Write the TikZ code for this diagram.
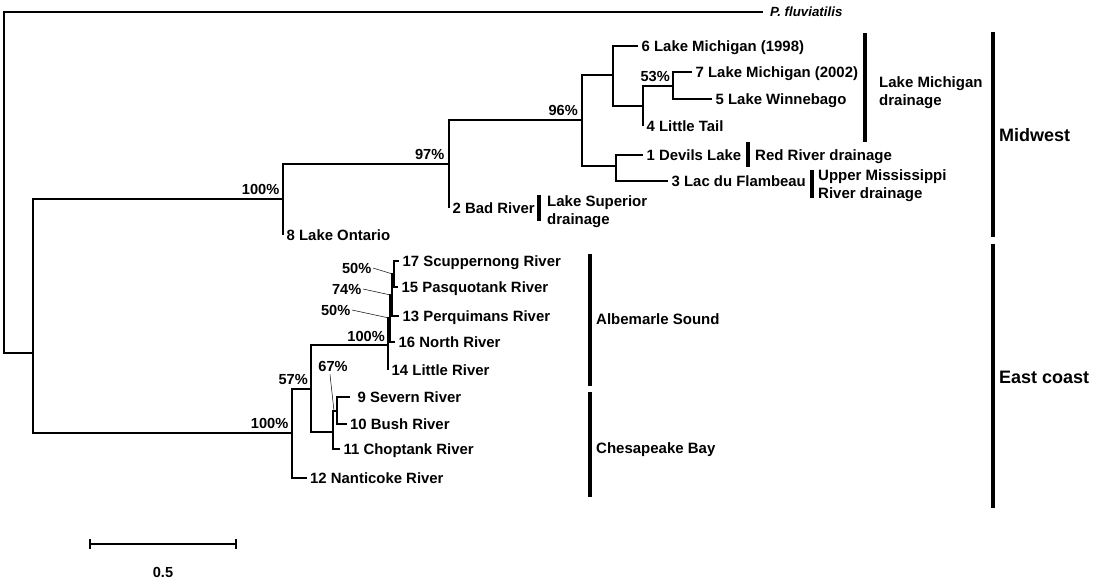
\documentclass[tikz,border=0pt]{standalone}
\usepackage{fontspec}
\setmainfont{Liberation Sans}
\usetikzlibrary{arrows.meta}

\begin{document}
\begin{tikzpicture}[x=1pt,y=-1pt,
  branch/.style={line width=1.8pt},
  pointer/.style={line width=.5pt},
  bar/.style={line width=4.6pt},
  taxon/.style={anchor=west,inner xsep=3.5pt,inner ysep=0pt,text height=10.7pt,text depth=0pt,
    font=\bfseries\fontsize{14.9}{17}\selectfont},
  support/.style={anchor=south east,inner sep=0pt,text height=10.5pt,text depth=0pt,
    font=\bfseries\fontsize{14.6}{17}\selectfont},
  callout/.style={support,anchor=east,inner xsep=1.5pt},
  group/.style={anchor=west,align=left,inner sep=0pt,font=\bfseries\fontsize{15}{18}\selectfont},
  onegroup/.style={group,text height=10.7pt,text depth=0pt},
  region/.style={anchor=west,inner sep=0pt,text height=12.9pt,text depth=0pt,
    font=\bfseries\fontsize{18}{21}\selectfont}]
\useasboundingbox (0,0) rectangle (1098,584);
\fill[white] (0,0) rectangle (1098,584);

% ROOT AND OUTGROUP
\coordinate (root) at (4,183);
\coordinate (ingroup) at (33,353);
\node[taxon,inner xsep=7pt,text height=9.5pt,font=\bfseries\itshape\fontsize{13.3}{16}\selectfont] (pflu) at (763,12) {P. fluviatilis};
\draw[branch] (root) |- (pflu.west);
\draw[branch] (root) |- (ingroup);

% MIDWEST CLADE
\coordinate (n100a) at (283,199);
\coordinate (n97) at (449,164);
\coordinate (n96) at (582,120);
\coordinate (mich) at (613,75);
\coordinate (michb) at (643,106);
\coordinate (n53) at (673,86);
\coordinate (redup) at (616,166);
\node[taxon] (t8) at (283,235) {8 Lake Ontario};
\node[taxon] (t2) at (449,208) {2 Bad River};
\node[taxon] (t6) at (638,46) {6 Lake Michigan (1998)};
\node[taxon] (t7) at (692,72) {7 Lake Michigan (2002)};
\node[taxon] (t5) at (712,99) {5 Lake Winnebago};
\node[taxon] (t4) at (643,126) {4 Little Tail};
\node[taxon] (t1) at (643,155) {1 Devils Lake};
\node[taxon] (t3) at (668,181) {3 Lac du Flambeau};
\draw[branch] (ingroup) |- (n100a);
\draw[branch] (n100a) |- (n97);
\draw[branch] (n100a) |- (t8.west);
\draw[branch] (n97) |- (n96);
\draw[branch] (n97) |- (t2.west);
\draw[branch] (n96) |- (mich);
\draw[branch] (n96) |- (redup);
\draw[branch] (mich) |- (t6.west);
\draw[branch] (mich) |- (michb);
\draw[branch] (michb) |- (n53);
\draw[branch] (michb) |- (t4.west);
\draw[branch] (n53) |- (t7.west);
\draw[branch] (n53) |- (t5.west);
\draw[branch] (redup) |- (t1.west);
\draw[branch] (redup) |- (t3.west);
\node[support] (s100a) at ([xshift=-3.5pt,yshift=4.5pt]n100a) {100\%};
\node[support] (s97) at ([xshift=-4.5pt,yshift=4.5pt]n97) {97\%};
\node[support] (s96) at ([xshift=-4pt,yshift=4.5pt]n96) {96\%};
\node[support] (s53) at ([xshift=-3pt,yshift=4pt]n53) {53\%};

% EAST COAST CLADE
\coordinate (n100b) at (292,433);
\coordinate (n57) at (311,389);
\coordinate (n100c) at (388,345);
\coordinate (n50b) at (390,318);
\coordinate (n74) at (392,295);
\coordinate (n50a) at (394,274);
\coordinate (chesa) at (333,432);
\coordinate (n67) at (337,411);
\node[taxon] (t17) at (399,261) {17 Scuppernong River};
\node[taxon] (t15) at (398,287) {15 Pasquotank River};
\node[taxon] (t13) at (399,316) {13 Perquimans River};
\node[taxon] (t16) at (395,342) {16 North River};
\node[taxon] (t14) at (388,370) {14 Little River};
\node[taxon,inner xsep=7.5pt] (t9) at (350,397) {9 Severn River};
\node[taxon] (t10) at (346.5,424) {10 Bush River};
\node[taxon] (t11) at (340,449) {11 Choptank River};
\node[taxon] (t12) at (306.5,478) {12 Nanticoke River};
\draw[branch] (ingroup) |- (n100b);
\draw[branch] (n100b) |- (n57);
\draw[branch] (n100b) |- (t12.west);
\draw[branch] (n57) |- (n100c);
\draw[branch] (n57) |- (chesa);
\draw[branch] (n100c) |- (n50b);
\draw[branch] (n100c) |- (t14.west);
\draw[branch] (n50b) |- (n74);
\draw[branch] (n50b) |- (t16.west);
\draw[branch] (n74) |- (n50a);
\draw[branch] (n74) |- (t13.west);
\draw[branch] (n50a) |- (t17.west);
\draw[branch] (n50a) |- (t15.west);
\draw[branch] (chesa) |- (n67);
\draw[branch] (chesa) |- (t11.west);
\draw[branch] (n67) |- (t9.west);
\draw[branch] (n67) |- (t10.west);
\node[support] (s100b) at ([xshift=-3.5pt,yshift=4.5pt]n100b) {100\%};
\node[support] (s57) at ([xshift=-3pt,yshift=4.5pt]n57) {57\%};
\node[support] (s100c) at ([xshift=-3pt,yshift=3.5pt]n100c) {100\%};

% supports too small to sit at their nodes
\node[callout] (c50a) at (373,268) {50\%};
\node[callout] (c74) at (363,289) {74\%};
\node[callout] (c50b) at (352,310) {50\%};
\node[support,anchor=center] (c67) at (333,366) {67\%};
\draw[pointer] (c50a.east) -- ([xshift=-1.5pt]n50a);
\draw[pointer] (c74.east) -- ([xshift=-1.5pt]n74);
\draw[pointer] (c50b.east) -- ([xshift=-1pt]n50b);
\draw[pointer] ([xshift=-3pt,yshift=-3pt]c67.south) -- ([xshift=-3pt]n67);

% DRAINAGE BARS
\draw[bar] (539,195) -- (539,221);
\node[group] (superior) at (547,211.5) {Lake Superior\\drainage};
\draw[bar] (748,142) -- (748,167);
\node[onegroup] (redriver) at (755,155) {Red River drainage};
\draw[bar] (812,170) -- (812,198);
\node[group] (uppermiss) at (818,186) {Upper Mississippi\\River drainage};
\draw[bar] (865,33) -- (865,142);
\node[group] (michigan) at (879,92.5) {Lake Michigan\\drainage};
\draw[bar] (590,254) -- (590,386);
\node[onegroup] (albemarle) at (596,319) {Albemarle Sound};
\draw[bar] (590,392) -- (590,497);
\node[onegroup] (chesapeake) at (596,448) {Chesapeake Bay};

% REGIONS
\draw[bar] (993,32) -- (993,237);
\node[region] (midwest) at (999,135) {Midwest};
\draw[bar] (993,244) -- (993,508);
\node[region] (eastcoast) at (999,377) {East coast};

% SCALE BAR
\coordinate (sbleft) at (89,544);
\coordinate (sbright) at (237,544);
\draw[branch,{Bar[width=10pt]}-{Bar[width=10pt]}] (sbleft) -- (sbright);
\node[support,anchor=center] (sblabel) at (163,572) {0.5};
\end{tikzpicture}
\end{document}
